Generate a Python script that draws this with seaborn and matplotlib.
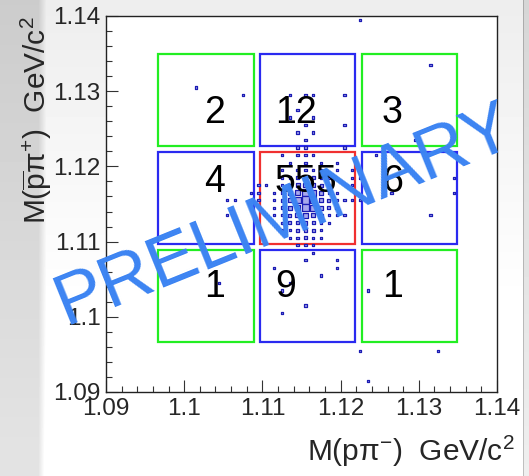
import numpy as np
import pandas as pd
import seaborn as sns
import matplotlib.pyplot as plt
from matplotlib.patches import Rectangle
from matplotlib.ticker import MultipleLocator

# bin centres (1 MeV bins) of the signal box, and its contents (rows: top -> bottom)
core_x = [1.1105, 1.1115, 1.1125, 1.1135, 1.1145, 1.1155, 1.1165, 1.1175, 1.1185, 1.1195, 1.1205, 1.1215]
core_y = [1.1215, 1.1205, 1.1195, 1.1185, 1.1175, 1.1165, 1.1155, 1.1145, 1.1135, 1.1125, 1.1115, 1.1105]
core_counts = [
    [0, 0, 1, 0, 1, 1, 1, 0, 0, 0, 0, 0],
    [0, 0, 0, 1, 0, 1, 0, 1, 0, 1, 0, 0],
    [0, 0, 1, 0, 1, 2, 1, 1, 0, 1, 0, 1],
    [0, 0, 1, 2, 4, 6, 4, 2, 1, 0, 0, 1],
    [1, 0, 1, 5, 10, 14, 10, 5, 2, 0, 0, 1],
    [0, 1, 2, 8, 20, 36, 28, 10, 3, 1, 0, 0],
    [0, 1, 3, 10, 26, 46, 32, 14, 4, 1, 1, 1],
    [0, 1, 3, 9, 22, 36, 26, 11, 4, 2, 0, 0],
    [0, 1, 2, 5, 12, 16, 12, 6, 2, 1, 1, 0],
    [0, 0, 1, 3, 5, 8, 6, 3, 1, 0, 0, 0],
    [0, 0, 1, 1, 3, 4, 3, 1, 0, 0, 0, 0],
    [0, 0, 0, 1, 2, 3, 2, 1, 0, 0, 0, 0],
]

# single entries outside the signal box
side_x = [1.1015, 1.1075,
          1.1135, 1.1155, 1.1165, 1.1205, 1.1165, 1.1205, 1.1165, 1.1155, 1.1145, 1.1135, 1.1155, 1.1145,
          1.1315, 1.1275, 1.1295,
          1.1055, 1.1065, 1.1055, 1.1085,
          1.1245, 1.1345, 1.1345, 1.1315, 1.1255, 1.1265,
          1.1045,
          1.1155, 1.1195, 1.1195, 1.1115, 1.1175, 1.1155, 1.1125, 1.1125, 1.1135,
          1.1235,
          1.1145, 1.1155, 1.1205, 1.1095, 1.1095, 1.1095, 1.1225, 1.1225,
          1.1145, 1.1155, 1.1165, 1.1165, 1.1225, 1.1325, 1.1235, 1.1225]
side_y = [1.1305, 1.1295,
          1.1295, 1.1295, 1.1295, 1.1295, 1.1265, 1.1255, 1.1245, 1.1235, 1.1275, 1.1265, 1.1255, 1.1245,
          1.1335, 1.1285, 1.1235,
          1.1155, 1.1155, 1.1135, 1.1165,
          1.1215, 1.1185, 1.1165, 1.1135, 1.1175, 1.1165,
          1.1045,
          1.1075, 1.1075, 1.1065, 1.1065, 1.1055, 1.1015, 1.1005, 1.1035, 1.1045,
          1.1035,
          1.1225, 1.1225, 1.1225, 1.1175, 1.1165, 1.1155, 1.1185, 1.1155,
          1.1095, 1.1095, 1.1095, 1.1085, 1.0955, 1.0955, 1.0915, 1.1395]

# signal / sideband boxes
box_centre = 1.1158
box_half = 0.0061
box_step = 0.013
box_colors = [['#22ee22', '#2a2af0', '#22ee22'],
              ['#2a2af0', '#f03030', '#2a2af0'],
              ['#22ee22', '#2a2af0', '#22ee22']]
box_counts = [['2', '12', '3'],
              ['4', '555', '6'],
              ['1', '9', '1']]
label_x = [1.1026, 1.1116, 1.1253]
label_y = [1.1271, 1.1179, 1.1040]

ticks = [1.09, 1.10, 1.11, 1.12, 1.13, 1.14]
tick_labels = ['1.09', '1.1', '1.11', '1.12', '1.13', '1.14']

rows = []
for j, yc in enumerate(core_y):
    for i, xc in enumerate(core_x):
        if core_counts[j][i] > 0:
            rows.append((xc, yc, core_counts[j][i]))
for xs, ys in zip(side_x, side_y):
    rows.append((xs, ys, 1))
df = pd.DataFrame(rows, columns=['x', 'y', 'n'])

sns.set_style('ticks')
plt.rcParams['font.family'] = ['Liberation Sans', 'DejaVu Sans']
plt.rcParams['mathtext.fontset'] = 'custom'
plt.rcParams['mathtext.rm'] = 'Liberation Sans'
plt.rcParams['mathtext.it'] = 'Liberation Sans:italic'
plt.rcParams['mathtext.default'] = 'regular'

fig = plt.figure(figsize=(5.29, 4.76), dpi=100)
fig.patch.set_facecolor('white')

# slide background strip on the left
bg = fig.add_axes([0, 0, 1, 1], zorder=-5)
cols = np.ones(529)
cols[:38] = 0.86
cols[38:47] = np.linspace(0.86, 1.0, 9)
cols[523:] = 0.9
cols[523] = 0.72
shade = np.linspace(0.93, 1.04, 476)[:, None] * cols[None, :]
bg.imshow(np.clip(shade, 0, 1), cmap='gray', vmin=0, vmax=1, extent=[0, 529, 0, 476], aspect='auto')
bg.axis('off')

ax = fig.add_axes([0.2004, 0.1765, 0.7391, 0.7899])
ax.set_facecolor('white')

for r in range(3):
    for c in range(3):
        x0 = box_centre + (c - 1) * box_step - box_half
        y0 = box_centre + (1 - r) * box_step - box_half
        ax.add_patch(Rectangle((x0, y0), 2 * box_half, 2 * box_half, fill=False,
                               edgecolor=box_colors[r][c], linewidth=1.6, zorder=2))
        ax.text(label_x[c], label_y[r], box_counts[r][c], fontsize=27, ha='left', va='center',
                color='black', zorder=4)

sns.scatterplot(data=df, x='x', y='y', size='n', sizes=(2.5, 30), size_norm=(1, 46),
                marker='s', color='#a8a8ec', edgecolor='#1c1cb4', linewidth=0.9,
                legend=False, ax=ax, zorder=3)

ax.set_xlim(1.09, 1.14)
ax.set_ylim(1.09, 1.14)
ax.set_xticks(ticks, labels=tick_labels)
ax.set_yticks(ticks, labels=tick_labels)
ax.xaxis.set_minor_locator(MultipleLocator(0.002))
ax.yaxis.set_minor_locator(MultipleLocator(0.002))
ax.tick_params(which='major', direction='in', length=8.6, width=0.8, labelsize=17.5, pad=4,
               top=False, right=False, color='#333333')
ax.tick_params(which='minor', direction='in', length=4.3, width=0.8, top=False, right=False,
               color='#333333')
for s in ax.spines.values():
    s.set_linewidth(1.0)
    s.set_color('#222222')

ax.set_xlabel(r'M(p$\pi^{-}$)  GeV/c$^{2}$', fontsize=21.5, ha='right')
ax.xaxis.set_label_coords(1.045, -0.11)
ax.xaxis.label.set_va('top')
ax.set_ylabel(r'M($\overline{p}\pi^{+}$)  GeV/c$^{2}$', fontsize=21.5, ha='right')
ax.yaxis.set_label_coords(-0.13, 1.0)

fig.text(0.538, 0.545, 'PRELIMINARY', fontsize=52, color='#3c84f2', rotation=22,
         ha='center', va='center', rotation_mode='anchor', zorder=10)

fig.savefig('out.png', dpi=100)
